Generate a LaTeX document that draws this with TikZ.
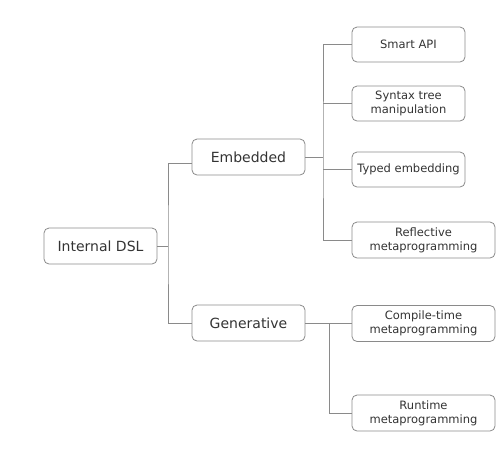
\documentclass[tikz,border=0pt]{standalone}
\usepackage{fontspec}
\setmainfont{DejaVu Sans}
\definecolor{edge}{HTML}{8A8A8A}
\definecolor{txt}{HTML}{333333}
\begin{document}
\begin{tikzpicture}[x=1pt,y=1pt,
  box/.style={draw=edge,line width=0.8pt,rounded corners=5pt,align=center,text=txt,inner sep=0pt},
  big/.style={box,minimum width=113pt,minimum height=36pt,font=\fontsize{14}{16}\selectfont},
  leaf/.style={box,minimum width=113pt,minimum height=35pt,font=\fontsize{11.5}{14}\selectfont},
  wide/.style={leaf,minimum width=143pt,minimum height=36pt},
  link/.style={draw=edge,line width=0.8pt}]
\useasboundingbox (0,0) rectangle (500,-448);
\node[big] (dsl) at (100.5,-246) {Internal DSL};
\node[big] (emb) at (248.5,-157) {Embedded};
\node[big] (gen) at (248.5,-323) {Generative};
\node[leaf] (smart) at (408.5,-44.5) {Smart API};
\node[leaf] (syntax) at (408.5,-103.5) {Syntax tree\\manipulation};
\node[leaf] (typed) at (408.5,-169.5) {Typed embedding};
\node[wide] (refl) at (423.5,-240) {Reflective\\metaprogramming};
\node[wide] (comp) at (423.5,-323.5) {Compile-time\\metaprogramming};
\node[wide] (run) at (423.5,-413) {Runtime\\metaprogramming};
\coordinate (j1) at (168,-246);
\coordinate (j2) at (323,-157);
\coordinate (j3) at (329,-323.5);
\draw[link] (dsl.east) -- (j1);
\draw[link] ([yshift=-6pt]emb.west) -| (j1) |- (gen.west);
\draw[link] (emb.east) -- (j2);
\draw[link] (smart.west) -| (j2) |- (refl.west);
\draw[link] (j2 |- syntax.west) -- (syntax.west);
\draw[link] (j2 |- typed.west) -- (typed.west);
\draw[link] (gen.east |- comp.west) -- (comp.west);
\draw[link] (j3) |- (run.west);
\end{tikzpicture}
\end{document}
